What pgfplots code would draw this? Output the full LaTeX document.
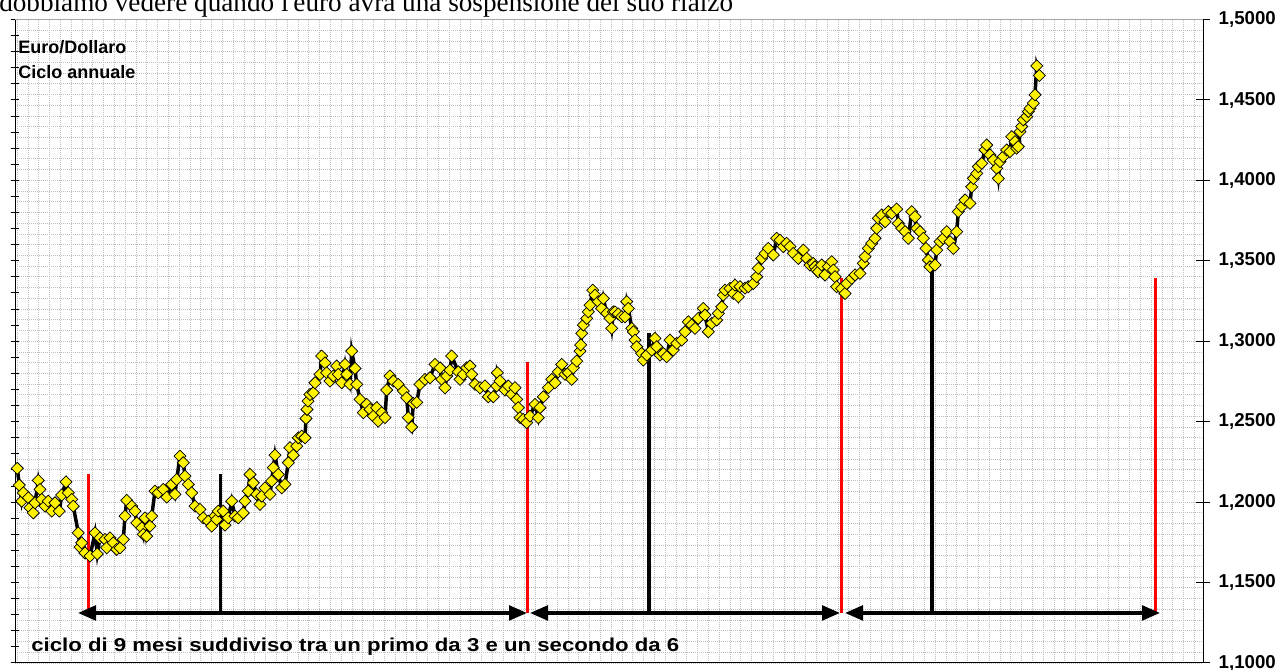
\documentclass[border=0pt]{standalone}
\usepackage{fontspec}
\setmainfont{Liberation Sans}
\newfontfamily\seriffont{Liberation Serif}
\usepackage{pgfplots}
\pgfplotsset{compat=1.18}
\usetikzlibrary{arrows.meta}
\pgfplotsset{
  placement/.style={at={(11.25pt,5.25pt)}, anchor=south west, scale only axis,
    width=891pt, height=482.6pt, xmin=15, xmax=1203, ymin=1.1, ymax=1.5},
}
\begin{document}
\begin{tikzpicture}[x=0.75pt,y=0.75pt]
\path[use as bounding box] (0,0) rectangle (1281,670);
\clip (0,0) rectangle (1281,670);
\node[anchor=base west, inner sep=0, font=\seriffont\fontsize{20.4pt}{24pt}\selectfont] at (-1,658.5) {dobbiamo vedere quando l'euro avrà una sospensione del suo rialzo};

% background grid
\begin{axis}[placement, axis line style={draw=none},
  xtick={17.2,28,...,1203}, ytick={1.1,1.1066667,...,1.5},
  xticklabels={}, yticklabels={}, major tick length=0pt,
  grid=major, major grid style={gray!50, line width=0.7pt, dash pattern=on 0.75pt off 0.75pt}]
\end{axis}

% left axis with fine ticks
\begin{axis}[placement, axis x line*=bottom, axis y line*=left,
  axis line style={-, black, line width=0.75pt},
  xtick=\empty, ytick={1.1,1.11,...,1.505}, yticklabels={},
  tick align=center, major tick length=6.75pt, tick style={black, line width=0.75pt}]
\end{axis}

% main axis with data
\begin{axis}[placement, axis x line*=top, axis y line*=right,
  axis line style={-, black, line width=0.75pt}, x axis line style={gray!70},
  xtick=\empty, ytick={1.1,1.15,1.2,1.25,1.3,1.35,1.4,1.45,1.5},
  tick align=center, major tick length=10.5pt, tick style={black, line width=0.75pt},
  /pgf/number format/fixed, /pgf/number format/fixed zerofill,
  /pgf/number format/precision=4, /pgf/number format/use comma,
  /pgf/number format/assume math mode=true,
  yticklabel style={font=\bfseries\fontsize{14pt}{16pt}\selectfont, xshift=3pt}]

\addplot[black, line width=2.6pt, mark=square*, mark size=3.2pt,
  mark options={rotate=45, fill=yellow, draw=black, line width=0.55pt, solid}] coordinates {
(17.3,1.2210) (19.3,1.2106) (21.7,1.2006) (23.3,1.2058) (28.3,1.2027) (30,1.1965)
(33.3,1.1933) (35,1.1996) (38.3,1.2135) (40,1.2079) (41.7,1.2017) (45,1.1975)
(48.3,1.2006) (51.7,1.1944) (55,1.1996) (59.3,1.1944) (61.7,1.2044) (66,1.2126)
(68.3,1.2058) (71.7,1.2017) (73.3,1.1975) (78.3,1.1809) (80,1.1720) (81.7,1.1747)
(85,1.1684) (90,1.1664) (95,1.1809) (97.3,1.1678) (100,1.1778) (105,1.1768)
(106.7,1.1716) (110,1.1778) (113.3,1.1747) (116.7,1.1706) (120,1.1716) (123.3,1.1768)
(125,1.1913) (126.7,1.2011) (131.7,1.1975) (135,1.1944) (136.7,1.1871) (141.7,1.1840)
(143.3,1.1799) (145,1.1902) (146.7,1.1788) (150,1.1851) (151.7,1.1913) (155,1.2068)
(158.3,1.2058) (163.3,1.2079) (166.7,1.2031) (171.7,1.2110) (175,1.2048) (176.7,1.2141)
(180,1.2286) (183.3,1.2245) (185,1.2162) (188.3,1.2110) (191.7,1.2058) (195,1.1975)
(200,1.1955) (203.3,1.1902) (208.3,1.1882) (211.7,1.1851) (215,1.1915) (216.7,1.1892)
(218.3,1.1944) (223.3,1.1944) (225,1.1857) (228.3,1.1902) (231.7,1.2006) (235,1.1913)
(238.3,1.1902) (243.3,1.1933) (245,1.2006) (248.3,1.2068) (250,1.2172) (253.3,1.2120)
(256.7,1.2048) (260,1.1986) (261.7,1.2037) (265,1.2089) (270,1.2048) (271.7,1.2131)
(273.3,1.2214) (275,1.2292) (278.3,1.2172) (281.7,1.2089) (285,1.2110) (288.3,1.2245)
(290,1.2338) (293.3,1.2292) (296.7,1.2348) (298.3,1.2400) (301.7,1.2410) (305,1.2400)
(306,1.2520) (307,1.2576) (308,1.2628) (310,1.2669) (313.3,1.2680) (315,1.2742)
(320,1.2794) (321.7,1.2908) (325,1.2866) (326.7,1.2804) (330,1.2753) (333.3,1.2784)
(336.7,1.2846) (338.3,1.2794) (341.7,1.2742) (345,1.2856) (346.7,1.2794) (350,1.2732)
(351.7,1.2939) (355,1.2831) (356.7,1.2732) (360,1.2639) (363.3,1.2556) (366.7,1.2608)
(370,1.2576) (373.3,1.2535) (376.7,1.2587) (378.3,1.2504) (381.7,1.2556) (385,1.2525)
(386.7,1.2697) (390,1.2784) (393.3,1.2753) (398.3,1.2732) (403.3,1.2691) (406.7,1.2649)
(408.3,1.2525) (411.7,1.2467) (413.3,1.2613) (416.7,1.2620) (420,1.2732) (425,1.2763)
(430,1.2773) (435,1.2856) (440,1.2835) (441.7,1.2763) (445,1.2711) (446.7,1.2784)
(450,1.2821) (451.7,1.2908) (458.3,1.2810) (460,1.2763) (463.3,1.2794) (466.7,1.2835)
(470,1.2846) (471.7,1.2794) (475,1.2732) (480,1.2711) (485,1.2722) (488.3,1.2655)
(493.3,1.2655) (496.7,1.2722) (497.3,1.2804) (500,1.2753) (505,1.2697) (508.3,1.2722)
(511.7,1.2670) (515,1.2711) (516.7,1.2639) (518.3,1.2587) (520,1.2525) (523.3,1.2514)
(526.7,1.2494) (530,1.2535) (535,1.2608) (538.3,1.2525) (540,1.2587) (543.3,1.2655)
(548.3,1.2711) (551.7,1.2763) (555,1.2742) (558.3,1.2810) (561.7,1.2856) (565,1.2794)
(568.3,1.2804) (571.7,1.2763) (573.3,1.2835) (576.7,1.2877) (580,1.2939) (580.7,1.2977)
(581.7,1.3049) (583.3,1.3101) (586.7,1.3142) (588.3,1.3183) (590,1.3225) (592.7,1.3318)
(595,1.3287) (598.3,1.3246) (601.7,1.3204) (603.3,1.3266) (606.7,1.3173) (610,1.3142)
(611.7,1.3080) (613.3,1.3183) (615,1.3183) (618.3,1.3170) (621.7,1.3152) (625,1.3152)
(626.7,1.3246) (628.3,1.3204) (631.7,1.3080) (633.3,1.3059) (635,1.3007) (636.7,1.2966)
(641.7,1.2924) (643.3,1.2883) (646.7,1.2914) (651.7,1.2945) (655,1.3018) (656.7,1.2966)
(660,1.2914) (663.3,1.2924) (666.7,1.2904) (670,1.3007) (673.3,1.2945) (676.7,1.2987)
(681.7,1.3007) (685,1.3059) (688.3,1.3121) (691.7,1.3101) (695,1.3080) (698.3,1.3142)
(703.3,1.3204) (705,1.3163) (708.3,1.3059) (711.7,1.3111) (716.7,1.3132) (718.3,1.3173)
(721.7,1.3214) (723.3,1.3287) (725,1.3318) (730,1.3328) (733.3,1.3297) (735,1.3349)
(738.3,1.3277) (740,1.3339) (745,1.3330) (748.3,1.3339) (753.3,1.3359) (756.7,1.3401)
(758.3,1.3453) (761.7,1.3515) (765,1.3546) (768.3,1.3577) (773.3,1.3536) (776.7,1.3640)
(780,1.3629) (783.3,1.3588) (786.7,1.3609) (790,1.3588) (793.3,1.3546) (798.3,1.3515)
(803.3,1.3567) (806.7,1.3515) (810,1.3474) (813.3,1.3484) (815,1.3463) (816.7,1.3443)
(818.3,1.3432) (821.7,1.3474) (825,1.3412) (828.3,1.3464) (831.7,1.3495) (833.3,1.3443)
(835,1.3401) (836.7,1.3339) (841.7,1.3328) (845,1.3297) (846.7,1.3359) (851.7,1.3391)
(855,1.3412) (860,1.3422) (863.3,1.3484) (865,1.3526) (868.3,1.3577) (871.7,1.3609)
(875,1.3640) (876.7,1.3702) (878.3,1.3764) (881.7,1.3785) (885,1.3743) (888.3,1.3806)
(891.7,1.3795) (896.7,1.3822) (898.3,1.3733) (901.7,1.3702) (905,1.3681) (908.3,1.3640)
(911.7,1.3806) (915,1.3774) (916.7,1.3702) (920,1.3681) (923.3,1.3640) (926,1.3577)
(928.3,1.3505) (930,1.3463) (935,1.3474) (936.7,1.3567) (940,1.3619) (943.3,1.3640)
(946.7,1.3681) (950,1.3619) (953.3,1.3577) (956.7,1.3681) (958.3,1.3806) (961.7,1.3837)
(965,1.3878) (970,1.3857) (971.7,1.3960) (973.3,1.4012) (976.7,1.4043) (978.3,1.4085)
(981.7,1.4106) (985,1.4189) (986.7,1.4220) (990,1.4158) (993.3,1.4127) (996.7,1.4075)
(998.3,1.4012) (1000,1.4117) (1003.3,1.4148) (1006.7,1.4189) (1010,1.4179) (1011.7,1.4272)
(1015,1.4241) (1016.7,1.4200) (1018.3,1.4210) (1020,1.4303) (1021.7,1.4335) (1023.3,1.4376)
(1026.7,1.4397) (1028.3,1.4428) (1030,1.4448) (1033.3,1.4480) (1035,1.4532) (1036.7,1.4712)
(1039.3,1.4652)
};

% cycle markers
\addplot[red, line width=2.6pt, forget plot] coordinates {(88.5,1.1311) (88.5,1.2175)};
\addplot[black, line width=2.3pt, forget plot] coordinates {(220.5,1.1311) (220.5,1.2175)};
\addplot[red, line width=2.6pt, forget plot] coordinates {(527.3,1.1311) (527.3,1.2874)};
\addplot[black, line width=2.3pt, forget plot] coordinates {(649,1.1311) (649,1.3052)};
\addplot[red, line width=2.6pt, forget plot] coordinates {(841.5,1.1311) (841.5,1.3392)};
\addplot[black, line width=2.3pt, forget plot] coordinates {(932,1.1311) (932,1.3500)};
\addplot[red, line width=2.6pt, forget plot] coordinates {(1155.5,1.1311) (1155.5,1.3392)};

% arrows
\addplot[black, line width=2.5pt, {Triangle[length=13.5pt,width=11pt]}-{Triangle[length=13.5pt,width=11pt]}, forget plot] coordinates {(78,1.1311) (527,1.1311)};
\addplot[black, line width=2.5pt, {Triangle[length=13.5pt,width=11pt]}-{Triangle[length=13.5pt,width=11pt]}, forget plot] coordinates {(530,1.1311) (840,1.1311)};
\addplot[black, line width=2.5pt, {Triangle[length=13.5pt,width=11pt]}-{Triangle[length=13.5pt,width=11pt]}, forget plot] coordinates {(845,1.1311) (1160,1.1311)};
\end{axis}

\node[anchor=base west, inner sep=0, font=\bfseries\fontsize{13.5pt}{15pt}\selectfont] at (18,616) {Euro/Dollaro};
\node[anchor=base west, inner sep=0, font=\bfseries\fontsize{13.5pt}{15pt}\selectfont] at (18,591) {Ciclo annuale};
\node[anchor=base west, inner sep=0, font=\bfseries\fontsize{14pt}{16pt}\selectfont] at (31,18) {\scalebox{1.19}[1]{ciclo di 9 mesi suddiviso tra un primo da 3 e un secondo da 6}};
\end{tikzpicture}
\end{document}
